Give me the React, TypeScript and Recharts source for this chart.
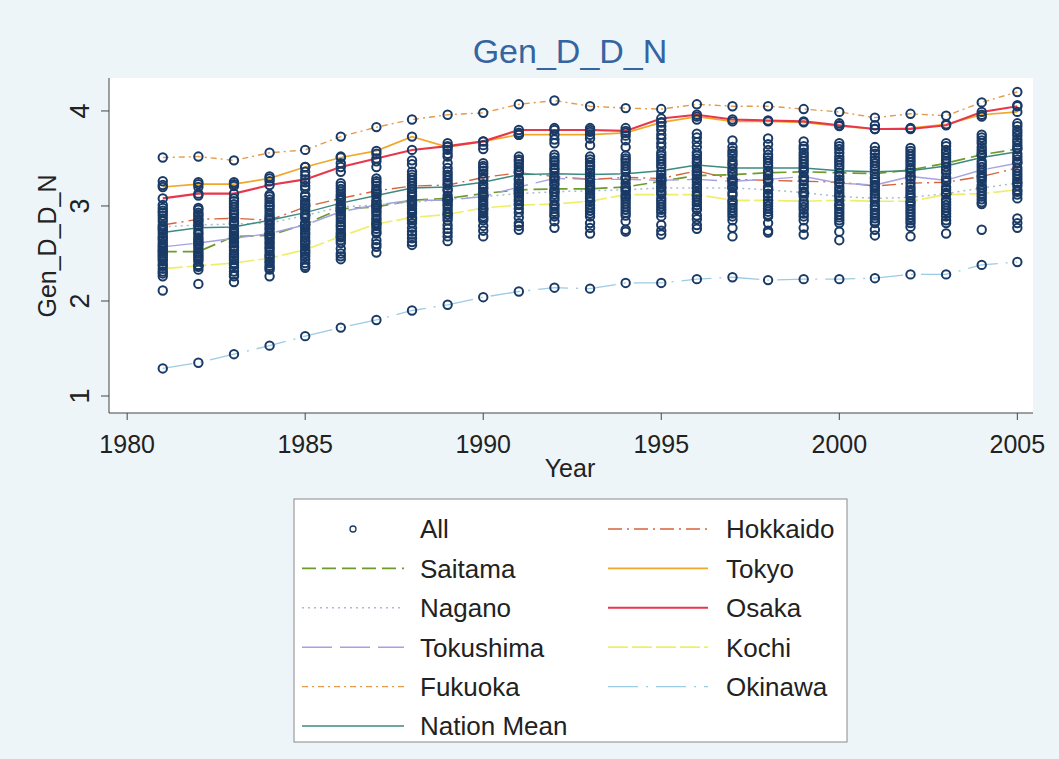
import React from "react";
import { ComposedChart, Line, Scatter, XAxis, YAxis, CartesianGrid } from "recharts";

const years = [
  1981, 1982, 1983, 1984, 1985, 1986, 1987, 1988, 1989, 1990, 1991, 1992, 1993,
  1994, 1995, 1996, 1997, 1998, 1999, 2000, 2001, 2002, 2003, 2004, 2005,
];

const hokkaido = [2.80, 2.86, 2.87, 2.85, 2.99, 3.08, 3.16, 3.21, 3.22, 3.30, 3.35, 3.31, 3.28, 3.30, 3.29, 3.37, 3.28, 3.27, 3.26, 3.25, 3.21, 3.24, 3.25, 3.31, 3.40];
const saitama = [2.52, 2.52, 2.68, 2.69, 2.81, 2.97, 2.99, 3.06, 3.08, 3.13, 3.17, 3.18, 3.18, 3.20, 3.26, 3.32, 3.33, 3.35, 3.36, 3.35, 3.34, 3.38, 3.45, 3.54, 3.60];
const tokyo = [3.20, 3.23, 3.23, 3.29, 3.41, 3.51, 3.58, 3.73, 3.62, 3.68, 3.75, 3.75, 3.75, 3.77, 3.88, 3.94, 3.89, 3.89, 3.88, 3.84, 3.81, 3.82, 3.86, 3.96, 3.99];
const nagano = [2.78, 2.80, 2.81, 2.82, 2.90, 2.99, 3.01, 3.04, 3.07, 3.10, 3.13, 3.15, 3.16, 3.17, 3.19, 3.19, 3.19, 3.17, 3.14, 3.10, 3.08, 3.09, 3.13, 3.19, 3.24];
const osaka = [3.08, 3.13, 3.13, 3.22, 3.28, 3.41, 3.50, 3.59, 3.63, 3.68, 3.80, 3.80, 3.80, 3.79, 3.92, 3.96, 3.91, 3.90, 3.89, 3.85, 3.81, 3.81, 3.85, 3.99, 4.05];
const tokushima = [2.57, 2.61, 2.66, 2.71, 2.80, 2.94, 3.01, 3.06, 3.06, 3.10, 3.20, 3.29, 3.28, 3.28, 3.27, 3.28, 3.26, 3.28, 3.31, 3.24, 3.22, 3.31, 3.27, 3.38, 3.45];
const kochi = [2.34, 2.37, 2.40, 2.45, 2.54, 2.68, 2.81, 2.88, 2.91, 2.98, 3.01, 3.02, 3.05, 3.12, 3.12, 3.12, 3.06, 3.06, 3.05, 3.06, 3.05, 3.05, 3.12, 3.13, 3.17];
const fukuoka = [3.51, 3.52, 3.48, 3.56, 3.59, 3.73, 3.83, 3.91, 3.96, 3.98, 4.07, 4.11, 4.05, 4.03, 4.02, 4.07, 4.05, 4.05, 4.02, 3.99, 3.93, 3.97, 3.95, 4.09, 4.20];
const okinawa = [1.29, 1.35, 1.44, 1.53, 1.63, 1.72, 1.80, 1.90, 1.96, 2.04, 2.10, 2.14, 2.13, 2.19, 2.19, 2.23, 2.25, 2.22, 2.23, 2.23, 2.24, 2.28, 2.28, 2.38, 2.41];
const nationMean = [2.72, 2.77, 2.78, 2.85, 2.93, 3.03, 3.11, 3.19, 3.20, 3.25, 3.33, 3.34, 3.33, 3.34, 3.37, 3.43, 3.40, 3.40, 3.40, 3.37, 3.36, 3.37, 3.42, 3.51, 3.57];

// remaining prefectures, one list per year
const others = [
  [3.26, 3.22, 3.01, 2.98, 2.95, 2.93, 2.90, 2.87, 2.84, 2.76, 2.74, 2.71, 2.68, 2.66, 2.64, 2.61, 2.59, 2.55, 2.53, 2.50, 2.48, 2.46, 2.44, 2.42, 2.39, 2.37, 2.31, 2.29, 2.26, 2.11],
  [3.25, 3.20, 3.11, 2.98, 2.96, 2.93, 2.91, 2.89, 2.85, 2.83, 2.79, 2.75, 2.72, 2.70, 2.67, 2.65, 2.63, 2.60, 2.58, 2.55, 2.50, 2.48, 2.46, 2.44, 2.42, 2.38, 2.36, 2.33, 2.18],
  [3.25, 3.21, 3.08, 3.05, 3.02, 2.99, 2.96, 2.93, 2.91, 2.88, 2.84, 2.82, 2.76, 2.73, 2.71, 2.69, 2.66, 2.63, 2.61, 2.58, 2.56, 2.53, 2.50, 2.47, 2.45, 2.43, 2.38, 2.35, 2.31, 2.28, 2.26, 2.20],
  [3.31, 3.26, 3.12, 3.10, 3.07, 3.04, 3.01, 2.99, 2.96, 2.93, 2.90, 2.88, 2.86, 2.80, 2.77, 2.75, 2.71, 2.67, 2.65, 2.62, 2.60, 2.57, 2.55, 2.52, 2.49, 2.47, 2.42, 2.40, 2.37, 2.35, 2.33, 2.26],
  [3.41, 3.36, 3.32, 3.25, 3.21, 3.18, 3.12, 3.10, 3.06, 3.03, 3.01, 2.96, 2.92, 2.90, 2.87, 2.82, 2.80, 2.77, 2.75, 2.72, 2.70, 2.67, 2.64, 2.62, 2.60, 2.57, 2.52, 2.50, 2.47, 2.44, 2.40, 2.37, 2.35],
  [3.52, 3.45, 3.36, 3.24, 3.21, 3.18, 3.15, 3.12, 3.10, 3.06, 3.02, 3.00, 2.96, 2.91, 2.89, 2.86, 2.83, 2.80, 2.78, 2.75, 2.72, 2.70, 2.67, 2.64, 2.61, 2.55, 2.50, 2.47, 2.44],
  [3.55, 3.47, 3.41, 3.29, 3.26, 3.24, 3.21, 3.18, 3.15, 3.13, 3.10, 3.06, 3.04, 2.98, 2.95, 2.93, 2.90, 2.87, 2.85, 2.82, 2.79, 2.76, 2.73, 2.71, 2.64, 2.60, 2.57, 2.51],
  [3.48, 3.44, 3.36, 3.33, 3.30, 3.27, 3.24, 3.18, 3.15, 3.12, 3.10, 3.05, 3.02, 3.00, 2.97, 2.94, 2.92, 2.87, 2.85, 2.82, 2.77, 2.73, 2.70, 2.66, 2.62, 2.59],
  [3.66, 3.59, 3.55, 3.52, 3.45, 3.40, 3.36, 3.33, 3.30, 3.27, 3.24, 3.18, 3.16, 3.11, 3.05, 3.02, 3.00, 2.97, 2.94, 2.91, 2.88, 2.85, 2.80, 2.76, 2.72, 2.68, 2.63],
  [3.64, 3.60, 3.45, 3.42, 3.40, 3.37, 3.34, 3.28, 3.23, 3.20, 3.18, 3.15, 3.11, 3.07, 3.04, 3.01, 2.97, 2.95, 2.92, 2.89, 2.87, 2.85, 2.79, 2.74, 2.68],
  [3.77, 3.75, 3.52, 3.49, 3.47, 3.44, 3.41, 3.38, 3.36, 3.29, 3.27, 3.24, 3.22, 3.15, 3.13, 3.10, 3.07, 3.05, 3.02, 2.97, 2.93, 2.88, 2.82, 2.79, 2.75],
  [3.82, 3.70, 3.66, 3.54, 3.51, 3.48, 3.46, 3.43, 3.40, 3.38, 3.35, 3.27, 3.24, 3.22, 3.15, 3.12, 3.09, 3.06, 3.00, 2.97, 2.94, 2.91, 2.89, 2.84, 2.77],
  [3.82, 3.78, 3.71, 3.64, 3.52, 3.49, 3.46, 3.43, 3.41, 3.38, 3.35, 3.31, 3.25, 3.22, 3.20, 3.13, 3.10, 3.08, 3.05, 3.01, 2.98, 2.95, 2.92, 2.89, 2.82, 2.77, 2.71],
  [3.82, 3.74, 3.69, 3.62, 3.53, 3.50, 3.48, 3.45, 3.42, 3.39, 3.36, 3.30, 3.24, 3.19, 3.15, 3.10, 3.08, 3.05, 3.02, 2.99, 2.96, 2.93, 2.90, 2.84, 2.75, 2.73],
  [3.88, 3.84, 3.80, 3.75, 3.71, 3.66, 3.62, 3.56, 3.53, 3.50, 3.47, 3.44, 3.41, 3.36, 3.33, 3.30, 3.23, 3.20, 3.16, 3.14, 3.08, 3.05, 3.02, 2.99, 2.96, 2.93, 2.89, 2.80, 2.74, 2.70],
  [3.91, 3.76, 3.72, 3.67, 3.62, 3.56, 3.53, 3.50, 3.47, 3.45, 3.40, 3.36, 3.34, 3.29, 3.25, 3.22, 3.19, 3.15, 3.10, 3.07, 3.04, 3.01, 2.98, 2.96, 2.90, 2.86, 2.80, 2.76],
  [3.69, 3.62, 3.58, 3.55, 3.52, 3.48, 3.45, 3.43, 3.39, 3.36, 3.28, 3.24, 3.21, 3.19, 3.14, 3.11, 3.04, 3.01, 2.98, 2.95, 2.92, 2.89, 2.85, 2.77, 2.68],
  [3.71, 3.65, 3.59, 3.54, 3.51, 3.48, 3.45, 3.42, 3.37, 3.32, 3.29, 3.25, 3.20, 3.18, 3.13, 3.10, 3.03, 3.00, 2.97, 2.94, 2.91, 2.89, 2.82, 2.74, 2.72],
  [3.68, 3.63, 3.60, 3.56, 3.53, 3.50, 3.47, 3.44, 3.41, 3.38, 3.30, 3.27, 3.22, 3.19, 3.15, 3.13, 3.10, 3.02, 2.99, 2.96, 2.92, 2.89, 2.85, 2.77, 2.70],
  [3.87, 3.66, 3.63, 3.60, 3.56, 3.52, 3.49, 3.46, 3.43, 3.40, 3.31, 3.28, 3.20, 3.17, 3.14, 3.11, 3.02, 3.00, 2.97, 2.94, 2.91, 2.88, 2.85, 2.82, 2.73, 2.64],
  [3.85, 3.62, 3.58, 3.55, 3.51, 3.48, 3.45, 3.42, 3.39, 3.30, 3.28, 3.25, 3.19, 3.16, 3.13, 3.10, 3.01, 2.99, 2.96, 2.93, 2.90, 2.87, 2.84, 2.82, 2.75, 2.69],
  [3.61, 3.58, 3.55, 3.52, 3.49, 3.46, 3.43, 3.40, 3.35, 3.31, 3.28, 3.20, 3.17, 3.14, 3.11, 3.03, 3.00, 2.97, 2.94, 2.91, 2.88, 2.85, 2.82, 2.78, 2.68],
  [3.66, 3.63, 3.59, 3.56, 3.53, 3.50, 3.47, 3.41, 3.38, 3.35, 3.30, 3.20, 3.17, 3.14, 3.07, 3.04, 3.01, 2.98, 2.95, 2.92, 2.89, 2.85, 2.82, 2.71],
  [3.94, 3.75, 3.72, 3.69, 3.66, 3.62, 3.59, 3.56, 3.53, 3.47, 3.44, 3.41, 3.35, 3.32, 3.29, 3.26, 3.22, 3.19, 3.16, 3.10, 3.07, 3.04, 3.02, 2.75],
  [4.06, 3.87, 3.84, 3.80, 3.77, 3.74, 3.70, 3.67, 3.64, 3.61, 3.55, 3.52, 3.49, 3.46, 3.37, 3.34, 3.31, 3.28, 3.25, 3.21, 3.15, 3.12, 3.08, 2.87, 2.82, 2.77],
];

const xTicks = [1980, 1985, 1990, 1995, 2000, 2005];
const yTicks = [1, 2, 3, 4];

const FONT = '"Liberation Sans", Arial, Helvetica, sans-serif';
const NAVY = "#1a3a66";

const series = [
  { key: "Hokkaido", values: hokkaido, color: "#d6643e", dash: "14 5 2 5", width: 1.4 },
  { key: "Saitama", values: saitama, color: "#6f9a2c", dash: "14 6", width: 1.7 },
  { key: "Tokyo", values: tokyo, color: "#f0a828", dash: undefined, width: 1.7 },
  { key: "Nagano", values: nagano, color: "#a9bccf", dash: "2 4", width: 1.5 },
  { key: "Osaka", values: osaka, color: "#e8374a", dash: undefined, width: 2.1 },
  { key: "Tokushima", values: tokushima, color: "#a4a2e2", dash: "30 8", width: 1.4 },
  { key: "Kochi", values: kochi, color: "#eeee6a", dash: "20 4", width: 1.7 },
  { key: "Fukuoka", values: fukuoka, color: "#e39a4a", dash: "6 4 2 4", width: 1.4 },
  { key: "Okinawa", values: okinawa, color: "#9ccbe4", dash: "30 8 2 8", width: 1.3 },
  { key: "Nation Mean", values: nationMean, color: "#3d8a80", dash: undefined, width: 1.5 },
];

const lineData = years.map((year, i) => {
  const row: Record<string, number> = { year };
  series.forEach((s) => (row[s.key] = s.values[i]));
  return row;
});

const prefSeries = series.filter((s) => s.key !== "Nation Mean");
const allPoints = years.flatMap((year, i) =>
  [...others[i], ...prefSeries.map((s) => s.values[i])].map((val) => ({ year, val }))
);

const Ring = (p: any) => (
  <circle cx={p.cx} cy={p.cy} r={4.2} fill="none" stroke={NAVY} strokeWidth={2} />
);

const XTick = (p: any) => (
  <text x={p.x} y={453} textAnchor="middle" fontSize={25} fill="#222" fontFamily={FONT}>
    {p.payload.value}
  </text>
);

const YTick = (p: any) => (
  <text
    x={89}
    y={p.y}
    transform={`rotate(-90 89 ${p.y})`}
    textAnchor="middle"
    fontSize={27}
    fill="#222"
    fontFamily={FONT}
  >
    {p.payload.value}
  </text>
);

function LegendBox() {
  const items = [{ key: "All", color: NAVY, dash: undefined as string | undefined, width: 1 }, ...series];
  return (
    <g fontFamily={FONT} fontSize={26} fill="#222">
      <rect x={294} y={499} width={553} height={243} fill="#fff" stroke="#8a8a8a" strokeWidth={1} />
      {items.map((it, k) => {
        const row = Math.floor(k / 2);
        const col = k % 2;
        const cy = 529 + row * 39.4;
        const x0 = col === 0 ? 302 : 608;
        const x1 = col === 0 ? 404 : 708;
        const tx = col === 0 ? 420 : 726;
        return (
          <g key={it.key}>
            {it.key === "All" ? (
              <circle cx={(x0 + x1) / 2} cy={cy} r={3} fill="none" stroke={NAVY} strokeWidth={1.3} />
            ) : (
              <line x1={x0} y1={cy} x2={x1} y2={cy} stroke={it.color} strokeWidth={it.width} strokeDasharray={it.dash} />
            )}
            <text x={tx} y={cy} dy="0.36em" fill="#222">
              {it.key}
            </text>
          </g>
        );
      })}
    </g>
  );
}

export default function App() {
  return (
    <div style={{ position: "absolute", left: 0, top: 0, width: 1059, height: 759, background: "#eef5f8" }}>
      <ComposedChart
        width={1059}
        height={759}
        data={lineData}
        margin={{ top: 78, right: 26, bottom: 316, left: 49 }}
      >
        <CartesianGrid fill="#fff" stroke="none" horizontal={false} vertical={false} />
        <XAxis
          dataKey="year"
          type="number"
          domain={[1979.49, 2005.44]}
          allowDataOverflow
          ticks={xTicks}
          height={30}
          tickSize={7}
          stroke="#444"
          tick={XTick}
        />
        <YAxis
          type="number"
          domain={[0.821, 4.347]}
          allowDataOverflow
          ticks={yTicks}
          width={60}
          tickSize={8}
          stroke="#444"
          tick={YTick}
        />
        <Scatter name="All" data={allPoints} dataKey="val" shape={Ring} isAnimationActive={false} />
        {series.map((s) => (
          <Line
            key={s.key}
            dataKey={s.key}
            type="linear"
            stroke={s.color}
            strokeWidth={s.width}
            strokeDasharray={s.dash}
            dot={false}
            activeDot={false}
            isAnimationActive={false}
          />
        ))}
      </ComposedChart>
      <svg width={1059} height={759} style={{ position: "absolute", left: 0, top: 0, pointerEvents: "none" }}>
        <text x={570} y={63} textAnchor="middle" fontSize={34} fill="#3565a0" fontFamily={FONT}>
          Gen_D_D_N
        </text>
        <text
          x={56}
          y={246}
          transform="rotate(-90 56 246)"
          textAnchor="middle"
          fontSize={25}
          fill="#222"
          fontFamily={FONT}
        >
          Gen_D_D_N
        </text>
        <text x={570} y={477} textAnchor="middle" fontSize={25} fill="#222" fontFamily={FONT}>
          Year
        </text>
        <LegendBox />
      </svg>
    </div>
  );
}
